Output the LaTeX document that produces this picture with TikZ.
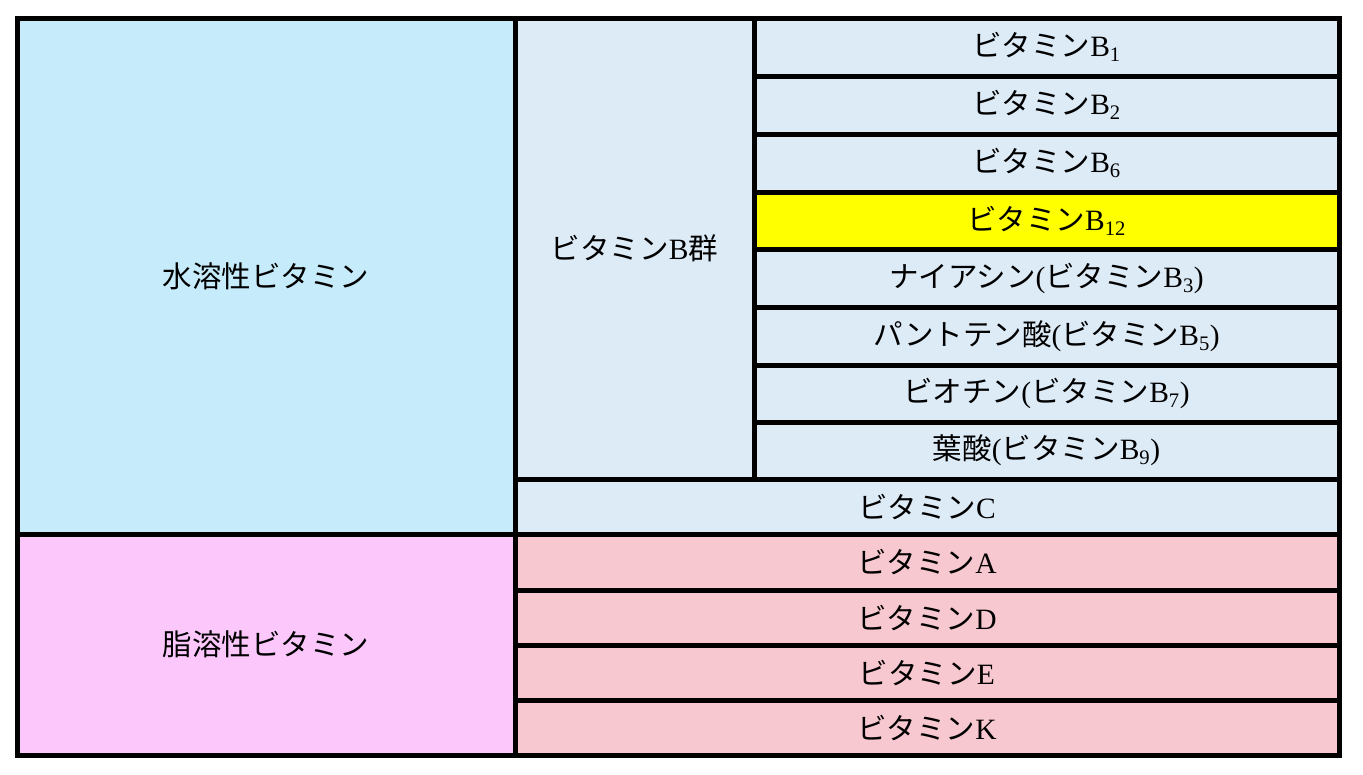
\documentclass[tikz,border=0pt]{standalone}
\usepackage{fontspec}
\setmainfont{Liberation Serif}
\newfontfamily\jp{Noto Sans CJK JP}
\usepackage{tikz}
\definecolor{watercol}{RGB}{198,235,250}
\definecolor{bgroupcol}{RGB}{221,235,247}
\definecolor{fatcol}{RGB}{252,200,252}
\definecolor{fatrowcol}{RGB}{248,200,208}
\definecolor{markcol}{RGB}{255,255,0}
\newcommand\Vit[1]{{\jp ビタミン}#1}
\newcommand\Cell[7]{%
    \node[cellbox, fill=#6, minimum width={(#4-#2)*1pt}, minimum height={(#5-#3)*1pt}]
        (#1) at ({(#2+#4)/2},{(#3+#5)/2}) {#7};
}
\tikzset{
    cellbox/.style={draw=black, line width=5pt, rectangle, inner sep=0pt, outer sep=0pt,
        font=\fontsize{29.5}{32}\selectfont},
}
\begin{document}
\begin{tikzpicture}[x=1pt,y=-1pt]
    \useasboundingbox (0,0) rectangle (1363,774);
    % left column
    \Cell{water}{17}{18}{515}{534}{watercol}{{\jp 水溶性ビタミン}}
    \Cell{fat}{17}{534}{515}{755}{fatcol}{{\jp 脂溶性ビタミン}}
    % B group
    \Cell{bgroup}{515}{18}{754}{479}{bgroupcol}{\Vit{B{\jp 群}}}
    \Cell{b1}{754}{18}{1339}{76}{bgroupcol}{\Vit{B\textsubscript{1}}}
    \Cell{b2}{754}{76}{1339}{134}{bgroupcol}{\Vit{B\textsubscript{2}}}
    \Cell{b6}{754}{134}{1339}{192}{bgroupcol}{\Vit{B\textsubscript{6}}}
    \Cell{b12}{754}{192}{1339}{249}{markcol}{\Vit{B\textsubscript{12}}}
    \Cell{b3}{754}{249}{1339}{307}{bgroupcol}{{\jp ナイアシン}(\Vit{B\textsubscript{3}})}
    \Cell{b5}{754}{307}{1339}{365}{bgroupcol}{{\jp パントテン酸}(\Vit{B\textsubscript{5}})}
    \Cell{b7}{754}{365}{1339}{422}{bgroupcol}{{\jp ビオチン}(\Vit{B\textsubscript{7}})}
    \Cell{b9}{754}{422}{1339}{479}{bgroupcol}{{\jp 葉酸}(\Vit{B\textsubscript{9}})}
    \Cell{vc}{515}{479}{1339}{534}{bgroupcol}{\Vit{C}}
    % fat soluble
    \Cell{va}{515}{534}{1339}{590}{fatrowcol}{\Vit{A}}
    \Cell{vd}{515}{590}{1339}{645}{fatrowcol}{\Vit{D}}
    \Cell{ve}{515}{645}{1339}{700}{fatrowcol}{\Vit{E}}
    \Cell{vk}{515}{700}{1339}{755}{fatrowcol}{\Vit{K}}
\end{tikzpicture}
\end{document}
